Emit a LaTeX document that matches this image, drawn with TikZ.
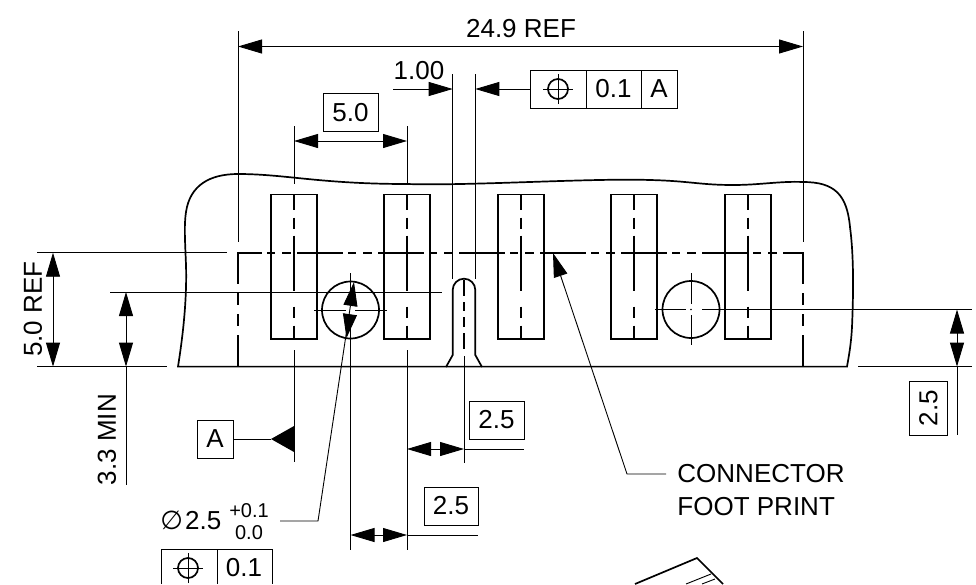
\documentclass[tikz,border=0pt]{standalone}
\usepackage{fontspec}
\setmainfont{Liberation Sans}
\newfontfamily\symfont{DejaVu Sans}
\usetikzlibrary{arrows.meta}
\tikzset{
	dimtip/.tip={Triangle[length=24pt,width=14pt]},
	every node/.style={inner sep=0pt,font=\fontsize{26}{30}\selectfont},
	heavy/.style={line width=1.7pt},
	tolfont/.style={font=\fontsize{20}{24}\selectfont},
	framebox/.style={draw,minimum height=38pt},
	pincentre/.style={heavy,dash pattern=on 15pt off 8pt on 11pt off 7pt on 55pt off 16pt on 11pt off 8pt on 15pt},
}
\newcommand{\posmark}[1]{
	\draw[heavy] (#1) circle (10);
	\draw ([xshift=-15pt]#1) -- ([xshift=15pt]#1);
	\draw ([yshift=-15pt]#1) -- ([yshift=15pt]#1);
}
\begin{document}
\begin{tikzpicture}[x=1pt,y=-1pt,line width=0.9pt]
	\useasboundingbox (0,0) rectangle (976,584);
	\draw[heavy] (178,366.6) .. controls (183,335) and (187,300) .. (186,265) .. controls (185,240) and (184,225) .. (186,212)
		.. controls (190,185) and (210,174) .. (238,174) .. controls (285,174) and (320,184) .. (407,184)
		.. controls (470,186) and (590,178) .. (650,180) .. controls (690,181) and (700,185) .. (733,185)
		.. controls (760,185) and (780,181) .. (803,182) .. controls (835,182) and (847,195) .. (850,227)
		.. controls (853,250) and (854,280) .. (852,327) .. controls (851,345) and (849,355) .. (847,366.6) -- cycle;

	\foreach \x in {294,407,521,634,748} {
		\draw[heavy] (\x-23,194.5) rectangle (\x+23,339);
		\draw[pincentre] (\x,194.5) -- (\x,340);
	}
	\foreach \x in {294,407} {
		\draw (\x,126) -- (\x,184);
	}
	\draw (294,350) -- (294,462);
	\draw (407,350) -- (407,550);

	\coordinate (footTL) at (238,252.7);
	\coordinate (footTR) at (803,252.7);
	\draw[heavy,dash pattern=on 46pt off 5pt on 8pt off 7pt on 9pt off 6pt,dash phase=22pt] (footTL) -- (footTR);
	\foreach \x in {238,803} {
		\draw[heavy,dash pattern=on 32pt off 9pt on 12pt off 9pt on 12pt off 9pt on 32pt] (\x,252) -- (\x,367);
		\draw (\x,31) -- (\x,242);
	}

	\draw[heavy] (446,367) -- (452.7,355) -- (452.7,290) arc (180:360:11.3) -- (475.3,355) -- (482,367);
	\draw[heavy,dash pattern=on 16pt off 6pt on 9pt off 6pt on 10pt off 6pt] (464,280) -- (464,353);
	\draw (464,356) -- (464,463);
	\draw (452.7,74) -- (452.7,279);
	\draw (475.3,74) -- (475.3,279);

	\draw[heavy] (350.5,310) circle (28.5);
	\draw[heavy] (691,309.5) circle (28.5);
	\draw (350.5,273) -- (350.5,304);
	\draw (350.5,316) -- (350.5,550);
	\draw (314,310) -- (346,310);
	\draw (355,310) -- (387,310);
	\draw (691,273) -- (691,304);
	\draw (691,315) -- (691,345);
	\draw (655,309.5) -- (686,309.5);
	\draw (702,309.5) -- (972,309.5);
	\fill (691,309.5) circle (0.8);

	\draw (37,252.7) -- (227,252.7);
	\draw (37,366.6) -- (167,366.6);
	\draw (110,292) -- (441.7,292);
	\draw (858,366.6) -- (972,366.6);

	\draw[dimtip-dimtip] (238,46.5) -- (803,46.5);
	\node (totalref) at (521,29) {24.9 REF};

	\node (pitchbox) [framebox,minimum width=55pt] at (350.5,112.5) {5.0};
	\draw[dimtip-dimtip] (294,141) -- (407,141);

	\node (slotlabel) at (419,71) {1.00};
	\draw[-dimtip] (393,89) -- (452.7,89);
	\node (fcfsym) [framebox,minimum width=56pt] at (558,89) {};
	\node (fcftol) [framebox,minimum width=55pt] at (613.5,89) {0.1};
	\node (fcfdatum) [framebox,minimum width=36pt] at (659,89) {A};
	\posmark{fcfsym.center}
	\draw[-dimtip] (fcfsym.west) -- (475.3,89);

	\node (heightref) [rotate=90] at (33,309) {5.0 REF};
	\draw[dimtip-dimtip] (53,252.7) -- (53,366.6);
	\node (heightmin) [rotate=90] at (107,439.5) {3.3 MIN};
	\draw[dimtip-dimtip] (126,292) -- (126,366.6);
	\draw (126,366.6) -- (126,485);

	\node (datumA) [framebox,minimum width=36pt] at (215,439) {A};
	\coordinate (datumtip) at (271,439);
	\draw (datumA.east) -- (datumtip);
	\fill (datumtip) -- (294,426) -- (294,452) -- cycle;

	\node (slotbox) [framebox,minimum width=55pt] at (496.5,420) {2.5};
	\draw[dimtip-dimtip] (407,449) -- (464,449);
	\draw (464,449) -- (524,449);

	\node (holebox) [framebox,minimum width=54pt] at (451,506) {2.5};
	\draw[dimtip-dimtip] (350.5,535) -- (407,535);
	\draw (407,535) -- (478,535);

	\node (sidebox) [framebox,minimum width=54pt,rotate=90] at (928.5,408) {2.5};
	\draw[dimtip-dimtip] (957,309.5) -- (957,366.6);
	\draw (957,366.6) -- (957,435);

	\node (holesize) [anchor=west] at (160,520) {{\symfont ∅}\hspace{2pt}2.5};
	\node (tolplus) [tolfont] at (249,511) {+0.1};
	\node (tolminus) [tolfont] at (249,533) {0.0};
	\coordinate (holeknee) at (318,521);
	\draw[-dimtip] (280,521) -- (holeknee) -- (354,282);
	\draw[-dimtip] (350,314) -- (346.5,338);

	\draw (161,584) |- (272,549) -- (272,584);
	\draw (217,549) -- (217,584);
	\coordinate (holesym) at (188,568);
	\posmark{holesym}
	\node (holetol) at (244,568) {0.1};

	\node (footlabel) [anchor=west] at (677,474) {CONNECTOR};
	\node (footlabeltwo) [anchor=west] at (677,507) {FOOT PRINT};
	\draw[-dimtip] (666,474) -- (627,474) -- (553,253);

	\draw[heavy] (635,584) -- (697,558) -- (723,584);
	\draw (686,584) -- (711,574);
	\draw (702,584) -- (715,579);
\end{tikzpicture}
\end{document}
